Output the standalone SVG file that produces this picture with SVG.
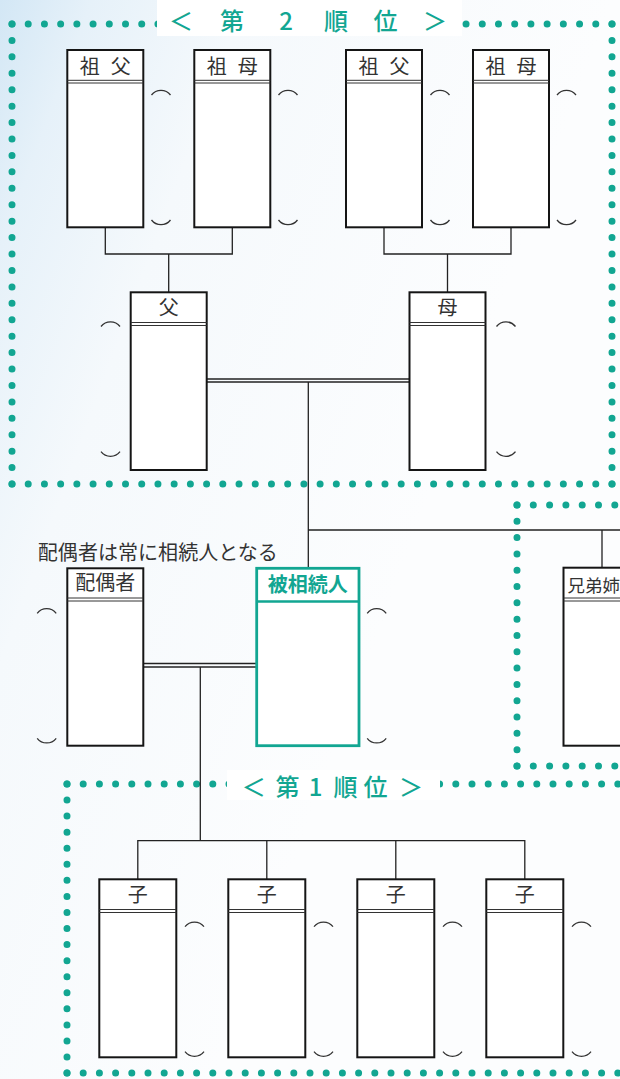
<svg xmlns="http://www.w3.org/2000/svg" width="620" height="1079" viewBox="0 0 620 1079">
<defs>
<linearGradient id="bg" x1="0" y1="0" x2="0.7" y2="0.45">
<stop offset="0" stop-color="#d3e7f5"/>
<stop offset="0.15" stop-color="#e6f1f9"/>
<stop offset="0.4" stop-color="#f5f9fc"/>
<stop offset="1" stop-color="#fcfdfe"/>
</linearGradient>
<style>
.dot{fill:none;stroke:#12a692;stroke-width:7;stroke-linecap:round}
.box{fill:#fff;stroke:#151515;stroke-width:2}
.hd{stroke:#333;stroke-width:1}
.ln{stroke:#222;stroke-width:1.3;fill:none}
.par{fill:none;stroke:#333;stroke-width:1.3}
.lbl{font-family:"Noto Sans CJK JP","Noto Sans CJK SC",sans-serif;font-size:20px;fill:#333;text-anchor:middle}
.ttl{font-family:"Noto Sans CJK JP","Noto Sans CJK SC",sans-serif;font-size:24px;fill:#12a692;text-anchor:middle;font-weight:500}
</style>
</defs>
<rect x="0" y="0" width="620" height="1079" fill="url(#bg)"/>

<g id="rank2-frame">
<line class="dot" x1="12" y1="24" x2="612.1" y2="24" stroke-dasharray="0 16.216"/>
<line class="dot" x1="12" y1="484" x2="612.1" y2="484" stroke-dasharray="0 16.216"/>
<line class="dot" x1="12" y1="24" x2="12" y2="484.1" stroke-dasharray="0 16.43"/>
<line class="dot" x1="612" y1="24" x2="612" y2="484.1" stroke-dasharray="0 16.43"/>
<rect x="157" y="0" width="305" height="36" fill="#fff"/>
<text class="ttl" x="181 232 286 336 385.5 435" y="30">＜第2順位＞</text>
</g>

<g id="rank3-frame">
<line class="dot" x1="517" y1="505" x2="630" y2="505" stroke-dasharray="0 16.3"/>
<line class="dot" x1="517" y1="505" x2="517" y2="766.1" stroke-dasharray="0 16.31"/>
<line class="dot" x1="517" y1="766" x2="630" y2="766" stroke-dasharray="0 16.3"/>
</g>

<g id="rank1-frame">
<line class="dot" x1="67" y1="784" x2="630" y2="784" stroke-dasharray="0 16.2"/>
<line class="dot" x1="67" y1="784" x2="67" y2="1073.1" stroke-dasharray="0 16.06"/>
<line class="dot" x1="67" y1="1073" x2="630" y2="1073" stroke-dasharray="0 16.2"/>
<rect x="227" y="770" width="213" height="30" fill="#fff"/>
<text class="ttl" x="253.8 287.5 315.5 345.5 375.5 411" y="795.5">＜第1順位＞</text>
</g>

<g id="connectors">
<path class="ln" d="M105.3,227.3 V254 H232.3 V227.3 M168.7,254 V292.3"/>
<path class="ln" d="M384,227.3 V254 H511 V227.3 M447.5,254 V292.3"/>
<line class="ln" x1="206.7" y1="379" x2="409.5" y2="379"/>
<line class="ln" x1="206.7" y1="382" x2="409.5" y2="382"/>
<path class="ln" d="M308.3,382 V568.3 M308.3,530 H630 M602,530 V567.7"/>
<line class="ln" x1="143.3" y1="663.5" x2="256.7" y2="663.5"/>
<line class="ln" x1="143.3" y1="667" x2="256.7" y2="667"/>
<path class="ln" d="M200.3,667 V840.7 M137.8,879.3 V840.7 H524.8 V879.3 M266.8,840.7 V879.3 M395.8,840.7 V879.3"/>
</g>

<g id="gf1">
<rect class="box" x="67.3" y="50" width="76" height="177.3"/>
<line class="hd" x1="67.3" y1="80.3" x2="143.3" y2="80.3"/><line class="hd" x1="67.3" y1="83" x2="143.3" y2="83"/>
<text class="lbl" x="105.3" y="73.5" style="word-spacing:6.5px">祖 父</text>
<path class="par" d="M151.5,95 A12,12 0 0 1 170.5,95 M151.5,220 A12,12 0 0 0 170.5,220"/>
</g>
<g id="gm1">
<rect class="box" x="194.3" y="50" width="76" height="177.3"/>
<line class="hd" x1="194.3" y1="80.3" x2="270.3" y2="80.3"/><line class="hd" x1="194.3" y1="83" x2="270.3" y2="83"/>
<text class="lbl" x="232.3" y="73.5" style="word-spacing:6.5px">祖 母</text>
<path class="par" d="M278.5,95 A12,12 0 0 1 297.5,95 M278.5,220 A12,12 0 0 0 297.5,220"/>
</g>
<g id="gf2">
<rect class="box" x="346" y="50" width="76" height="177.3"/>
<line class="hd" x1="346" y1="80.3" x2="422" y2="80.3"/><line class="hd" x1="346" y1="83" x2="422" y2="83"/>
<text class="lbl" x="384" y="73.5" style="word-spacing:6.5px">祖 父</text>
<path class="par" d="M430.5,95 A12,12 0 0 1 449.5,95 M430.5,220 A12,12 0 0 0 449.5,220"/>
</g>
<g id="gm2">
<rect class="box" x="473" y="50" width="76" height="177.3"/>
<line class="hd" x1="473" y1="80.3" x2="549" y2="80.3"/><line class="hd" x1="473" y1="83" x2="549" y2="83"/>
<text class="lbl" x="511" y="73.5" style="word-spacing:6.5px">祖 母</text>
<path class="par" d="M557,95 A12,12 0 0 1 576,95 M557,220 A12,12 0 0 0 576,220"/>
</g>

<g id="father">
<rect class="box" x="130.7" y="292.3" width="76" height="177.7"/>
<line class="hd" x1="130.7" y1="322.5" x2="206.7" y2="322.5"/><line class="hd" x1="130.7" y1="325.5" x2="206.7" y2="325.5"/>
<text class="lbl" x="168.7" y="315">父</text>
<path class="par" d="M101,326.5 A12,12 0 0 1 120,326.5 M101,451.7 A12,12 0 0 0 120,451.7"/>
</g>
<g id="mother">
<rect class="box" x="409.5" y="292.3" width="76" height="177.7"/>
<line class="hd" x1="409.5" y1="322.5" x2="485.5" y2="322.5"/><line class="hd" x1="409.5" y1="325.5" x2="485.5" y2="325.5"/>
<text class="lbl" x="447.5" y="315">母</text>
<path class="par" d="M496.5,326.5 A12,12 0 0 1 515.5,326.5 M496.5,451.7 A12,12 0 0 0 515.5,451.7"/>
</g>

<g id="note">
<text class="lbl" x="37.8" y="560.3" style="text-anchor:start" textLength="240">配偶者は常に相続人となる</text>
</g>

<g id="spouse">
<rect class="box" x="67.3" y="568.3" width="76" height="177.4"/>
<line class="hd" x1="67.3" y1="598" x2="143.3" y2="598"/><line class="hd" x1="67.3" y1="601" x2="143.3" y2="601"/>
<text class="lbl" x="105.3" y="590.3">配偶者</text>
<path class="par" d="M37.2,613.3 A12,12 0 0 1 56.2,613.3 M37.2,738.3 A12,12 0 0 0 56.2,738.3"/>
</g>
<g id="decedent">
<rect x="256.7" y="568.3" width="102.3" height="177.4" fill="#fff" stroke="#12a692" stroke-width="2.8"/>
<line x1="256.7" y1="601.5" x2="359" y2="601.5" stroke="#12a692" stroke-width="2.6"/>
<text class="lbl" x="307.8" y="592" style="fill:#12a692;font-weight:700">被相続人</text>
<path class="par" d="M367.2,613.3 A12,12 0 0 1 386.2,613.3 M367.2,738.3 A12,12 0 0 0 386.2,738.3"/>
</g>
<g id="siblings">
<rect class="box" x="563.5" y="567.7" width="100" height="178"/>
<line class="hd" x1="563.5" y1="598" x2="630" y2="598"/><line class="hd" x1="563.5" y1="601" x2="630" y2="601"/>
<text class="lbl" x="567.5" y="591.5" style="text-anchor:start;font-size:17.5px">兄弟姉</text>
</g>

<g id="child1">
<rect class="box" x="99.3" y="879.3" width="77" height="178"/>
<line class="hd" x1="99.3" y1="909.5" x2="176.3" y2="909.5"/><line class="hd" x1="99.3" y1="912.5" x2="176.3" y2="912.5"/>
<text class="lbl" x="137.8" y="902">子</text>
<path class="par" d="M185,926.7 A12,12 0 0 1 204,926.7 M185,1051.7 A12,12 0 0 0 204,1051.7"/>
</g>
<g id="child2">
<rect class="box" x="228.3" y="879.3" width="77" height="178"/>
<line class="hd" x1="228.3" y1="909.5" x2="305.3" y2="909.5"/><line class="hd" x1="228.3" y1="912.5" x2="305.3" y2="912.5"/>
<text class="lbl" x="266.8" y="902">子</text>
<path class="par" d="M314,926.7 A12,12 0 0 1 333,926.7 M314,1051.7 A12,12 0 0 0 333,1051.7"/>
</g>
<g id="child3">
<rect class="box" x="357.3" y="879.3" width="77" height="178"/>
<line class="hd" x1="357.3" y1="909.5" x2="434.3" y2="909.5"/><line class="hd" x1="357.3" y1="912.5" x2="434.3" y2="912.5"/>
<text class="lbl" x="395.8" y="902">子</text>
<path class="par" d="M443,926.7 A12,12 0 0 1 462,926.7 M443,1051.7 A12,12 0 0 0 462,1051.7"/>
</g>
<g id="child4">
<rect class="box" x="486.3" y="879.3" width="77" height="178"/>
<line class="hd" x1="486.3" y1="909.5" x2="563.3" y2="909.5"/><line class="hd" x1="486.3" y1="912.5" x2="563.3" y2="912.5"/>
<text class="lbl" x="524.8" y="902">子</text>
<path class="par" d="M572,926.7 A12,12 0 0 1 591,926.7 M572,1051.7 A12,12 0 0 0 591,1051.7"/>
</g>
</svg>
